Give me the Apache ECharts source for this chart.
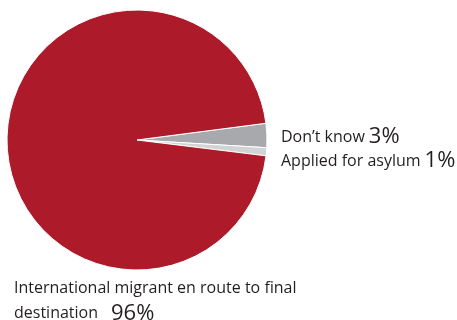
<!DOCTYPE html>
<html>
<head>
<meta charset="utf-8">
<script src="https://cdn.jsdelivr.net/npm/echarts@6/dist/echarts.min.js"></script>
<style>
  html, body { margin: 0; padding: 0; background: #fff; }
  #chart { width: 457px; height: 320px; }
</style>
</head>
<body>
<div id="chart"></div>
<script>
// Reason for travel shares (percent)
const categories = ['Don\u2019t know', 'Applied for asylum', 'International migrant en route to final destination'];
const values = [3, 1, 96];
const colors = ['#a7a9ac', '#d1d3d4', '#ad1b2b'];

// Label anchor spots (left edge, vertical middle of the text block)
const labelSpots = [
  { x: 281, y: 137 },
  { x: 281, y: 161 },
  { x: 14, y: 301 }
];

const font = 'Open Sans, sans-serif';

const chart = echarts.init(document.getElementById('chart'), null, { renderer: 'canvas' });

chart.setOption({
  animation: false,
  series: [{
    type: 'pie',
    center: [137, 140],
    radius: 130,
    startAngle: 7.4,
    clockwise: true,
    avoidLabelOverlap: false,
    data: categories.map((name, i) => ({
      name: name,
      value: values[i],
      itemStyle: { color: colors[i] }
    })),
    itemStyle: { borderColor: '#ffffff', borderWidth: 1 },
    emphasis: { disabled: true },
    labelLine: { show: false },
    label: {
      show: true,
      position: 'outside',
      color: '#231f20',
      fontFamily: font,
      formatter: function (p) {
        if (p.dataIndex === 2) {
          return '{n|International migrant en route to final}\n{n|destination}{w|' + p.value + '%}';
        }
        return '{n|' + p.name + '}{s|' + p.value + '%}';
      },
      rich: {
        n: { fontFamily: font, fontSize: 16, color: '#231f20', lineHeight: 25 },
        s: { fontFamily: font, fontSize: 22, color: '#231f20', lineHeight: 25, padding: [0, 0, 0, 4] },
        w: { fontFamily: font, fontSize: 22, color: '#231f20', lineHeight: 25, padding: [0, 0, 0, 13] }
      }
    },
    labelLayout: function (p) {
      const s = labelSpots[p.dataIndex];
      return { x: s.x, y: s.y, align: 'left', verticalAlign: 'middle', hideOverlap: false, moveOverlap: false };
    }
  }]
});
</script>
</body>
</html>
